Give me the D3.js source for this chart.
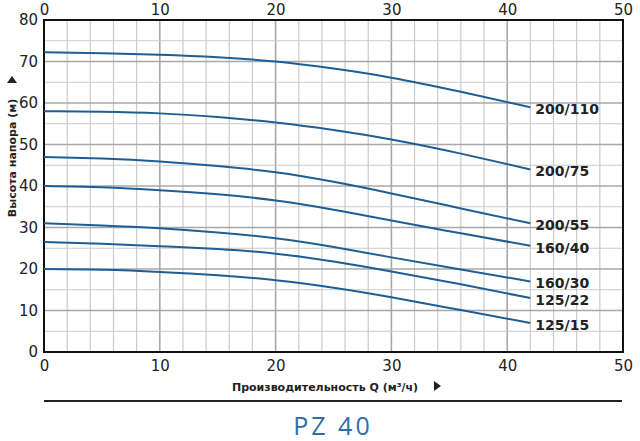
<!DOCTYPE html>
<html><head><meta charset="utf-8">
<script src="https://cdn.jsdelivr.net/npm/d3@7"></script>
<style>body{margin:0;background:#fff}svg{display:block}</style>
</head><body><svg id="c" width="640" height="441"></svg>
<script>
const flowQ = [0, 5, 10, 15, 20, 25, 30, 36, 42];
const seriesNames = ["200/110", "200/75", "200/55", "160/40", "160/30", "125/22", "125/15"];
const h200_110 = [72.2, 72.0, 71.6, 71.0, 70.0, 68.3, 66.1, 62.7, 59.0];
const h200_75  = [58.0, 57.9, 57.5, 56.6, 55.3, 53.5, 51.2, 47.8, 44.0];
const h200_55  = [47.0, 46.6, 45.9, 44.8, 43.3, 41.0, 38.2, 34.6, 31.0];
const h160_40  = [40.0, 39.7, 39.0, 38.0, 36.5, 34.3, 31.7, 28.6, 25.6];
const h160_30  = [31.0, 30.5, 29.8, 28.8, 27.4, 25.3, 22.8, 19.9, 17.0];
const h125_22  = [26.5, 26.1, 25.5, 24.8, 23.7, 21.8, 19.4, 16.3, 13.0];
const h125_15  = [20.0, 19.8, 19.3, 18.5, 17.3, 15.5, 13.2, 10.1, 7.0];
const xTicks = [0, 10, 20, 30, 40, 50];
const yTicks = [0, 10, 20, 30, 40, 50, 60, 70, 80];
const xTitle = "Производительность Q (м³/ч)";
const yTitle = "Высота напора (м)";
const chartTitle = "PZ 40";

const allSeries = [h200_110, h200_75, h200_55, h160_40, h160_30, h125_22, h125_15];
const svg = d3.select("#c");
const L = 44, R = 623, T = 20, B = 352;
const x = d3.scaleLinear().domain([0, 50]).range([L, R]);
const y = d3.scaleLinear().domain([0, 80]).range([B, T]);

const grid = svg.append("g");
d3.range(0, 51, 2).forEach(v => {
  grid.append("line").attr("x1", x(v)).attr("x2", x(v)).attr("y1", T).attr("y2", B)
    .attr("stroke", v % 10 === 0 ? "#a8a8a8" : "#cbcbcb").attr("stroke-width", v % 10 === 0 ? 1.6 : 1.2);
});
d3.range(0, 81, 5).forEach(v => {
  grid.append("line").attr("y1", y(v)).attr("y2", y(v)).attr("x1", L).attr("x2", R)
    .attr("stroke", v % 10 === 0 ? "#a8a8a8" : "#cbcbcb").attr("stroke-width", v % 10 === 0 ? 1.6 : 1.2);
});

const font = "DejaVu Sans, Verdana, sans-serif";
const bottomAxis = d3.axisBottom(x).tickValues(xTicks).tickSize(0).tickPadding(8);
const topAxis = d3.axisTop(x).tickValues(xTicks).tickSize(0).tickPadding(5);
const leftAxis = d3.axisLeft(y).tickValues(yTicks).tickSize(0).tickPadding(6);
function styleAxis(g){ g.select(".domain").remove(); g.selectAll("text").attr("font-family", font).attr("font-size", 15).attr("fill", "#222"); }
svg.append("g").attr("transform", `translate(0,${B})`).call(bottomAxis).call(styleAxis);
svg.append("g").attr("transform", `translate(0,${T})`).call(topAxis).call(styleAxis);
svg.append("g").attr("transform", `translate(${L},0)`).call(leftAxis).call(styleAxis);

svg.append("rect").attr("x", L).attr("y", T).attr("width", R - L).attr("height", B - T)
  .attr("fill", "none").attr("stroke", "#111").attr("stroke-width", 2);

const line = d3.line().x((d, i) => x(flowQ[i])).y(d => y(d)).curve(d3.curveNatural);
allSeries.forEach((s, k) => {
  svg.append("path").attr("d", line(s)).attr("fill", "none")
    .attr("stroke", "#1f5e93").attr("stroke-width", 2);
  svg.append("text").attr("x", x(flowQ[flowQ.length - 1]) + 5).attr("y", y(s[s.length - 1]) + 2)
    .attr("dominant-baseline", "central").attr("font-family", font).attr("font-weight", "bold")
    .attr("font-size", 14).attr("fill", "#222").text(seriesNames[k]);
});

svg.append("text").attr("x", 325).attr("y", 391).attr("text-anchor", "middle")
  .attr("font-family", font).attr("font-weight", "bold").attr("font-size", 11).attr("fill", "#222").text(xTitle);
svg.append("path").attr("d", "M434,381 L441,386 L434,391 Z").attr("fill", "#222");

svg.append("text").attr("transform", "translate(16,158) rotate(-90)").attr("text-anchor", "middle")
  .attr("font-family", font).attr("font-weight", "bold").attr("font-size", 11).attr("fill", "#222").text(yTitle);
svg.append("path").attr("d", "M7,83 L12,76 L17,83 Z").attr("fill", "#222");

svg.append("line").attr("x1", L).attr("x2", R - 1).attr("y1", 401).attr("y2", 401).attr("stroke", "#222").attr("stroke-width", 2);
svg.append("text").attr("x", 333).attr("y", 435).attr("text-anchor", "middle")
  .attr("font-family", "Open Sans, sans-serif").attr("font-size", 25).attr("letter-spacing", 3)
  .attr("fill", "#2a6fa8").text(chartTitle);
</script></body></html>
